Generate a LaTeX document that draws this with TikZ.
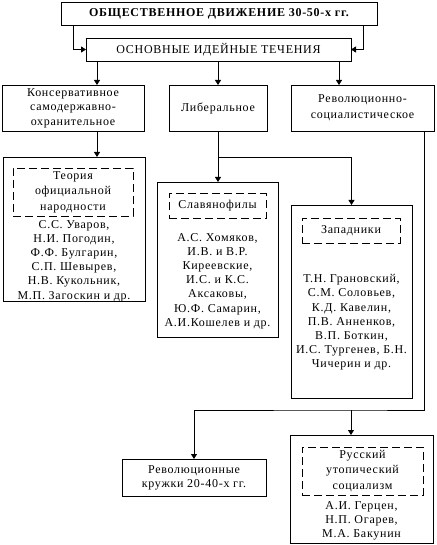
\documentclass[tikz,border=0pt]{standalone}
\usepackage{fontspec}
\setmainfont{Liberation Serif}[LetterSpace=6]
\usetikzlibrary{arrows.meta}
\begin{document}
\begin{tikzpicture}[x=1pt,y=-1pt,
  every node/.style={inner sep=0pt, outer sep=0pt, font=\fontsize{12}{14.2}\selectfont, align=center},
  box/.style={draw, line width=0.8pt},
  dbox/.style={draw, line width=0.8pt, dash pattern=on 8pt off 4pt},
  arr/.style={line width=0.8pt, -{Triangle[length=5pt,width=6pt]}},
  ln/.style={line width=0.8pt}]
\useasboundingbox (0,0) rectangle (436,545);
% boxes
\node[box, minimum width=316pt, minimum height=23pt, font=\fontsize{12}{14}\selectfont\bfseries] (t) at (219,13.5) {ОБЩЕСТВЕННОЕ ДВИЖЕНИЕ 30-50-х гг.};
\node[box, minimum width=265pt, minimum height=23pt] (m) at (218.5,49.5) {ОСНОВНЫЕ ИДЕЙНЫЕ ТЕЧЕНИЯ};
\node[box, minimum width=142pt, minimum height=46pt, font=\fontsize{12}{14.5}\selectfont] (b1) at (73,108) {Консервативное\\самодержавно-\\охранительное};
\node[box, minimum width=98pt, minimum height=46pt] (b2) at (218,108) {Либеральное};
\node[box, minimum width=143pt, minimum height=46pt, font=\fontsize{12}{16}\selectfont] (b3) at (362.5,108) {Революционно-\\социалистическое};
\node[box, minimum width=142pt, minimum height=144pt] (b4) at (74,229) {};
\node[box, minimum width=121pt, minimum height=155pt] (b5) at (217.5,259.5) {};
\node[box, minimum width=121pt, minimum height=193pt] (b6) at (351.5,301.5) {};
\node[box, minimum width=144pt, minimum height=37pt] (b7) at (194,477.5) {Революционные\\кружки 20-40-х гг.};
\node[box, minimum width=143pt, minimum height=108pt] (b8) at (361.5,489) {};
% dashed inner boxes
\node[dbox, minimum width=120pt, minimum height=48pt, font=\fontsize{12}{15.5}\selectfont] (d4) at (73,192) {Теория\\официальной\\народности};
\node[dbox, minimum width=97pt, minimum height=25pt] (d5) at (217.5,206) {Славянофилы};
\node[dbox, minimum width=98pt, minimum height=25pt] (d6) at (351,230.5) {Западники};
\node[dbox, minimum width=121pt, minimum height=48pt, font=\fontsize{12}{15.5}\selectfont] (d8) at (362.5,471) {Русский\\утопический\\социализм};
% name lists
\node (n4) at (74,261) {С.С. Уваров,\\Н.И. Погодин,\\Ф.Ф. Булгарин,\\С.П. Шевырев,\\Н.В. Кукольник,\\М.П. Загоскин и др.};
\node (n5) at (217.5,281) {А.С. Хомяков,\\И.В. и В.Р.\\Киреевские,\\И.С. и К.С.\\Аксаковы,\\Ю.Ф. Самарин,\\А.И.Кошелев и др.};
\node (n6) at (351.5,322.5) {Т.Н. Грановский,\\С.М. Соловьев,\\К.Д. Кавелин,\\П.В. Анненков,\\В.П. Боткин,\\И.С. Тургенев, Б.Н.\\Чичерин и др.};
\node (n8) at (361.5,521) {А.И. Герцен,\\Н.П. Огарев,\\М.А. Бакунин};
% connectors
\coordinate (j1) at (218,157);
\coordinate (j2) at (351,410);
\draw[arr] ([xshift=12pt]t.south west) |- (m.west);
\draw[arr] ([xshift=-14pt]t.south east) |- (m.east);
\draw[arr] ([xshift=24pt]b1.north |- m.south) -- ([xshift=24pt]b1.north);
\draw[arr] (b2.north |- m.south) -- (b2.north);
\draw[arr] ([xshift=-23.5pt]b3.north |- m.south) -- ([xshift=-23.5pt]b3.north);
\draw[arr] ([xshift=24pt]b1.south) -- ([xshift=24pt]b1.south |- b4.north);
\draw[arr] (b2.south) -- (b2.south |- b5.north);
\draw[arr] (j1) -| (b6.north);
\draw[arr] ([xshift=61.5pt]b3.south) |- (j2) -| (b7.north);
\draw[arr] (j2) -- (j2 |- b8.north);
\end{tikzpicture}
\end{document}
